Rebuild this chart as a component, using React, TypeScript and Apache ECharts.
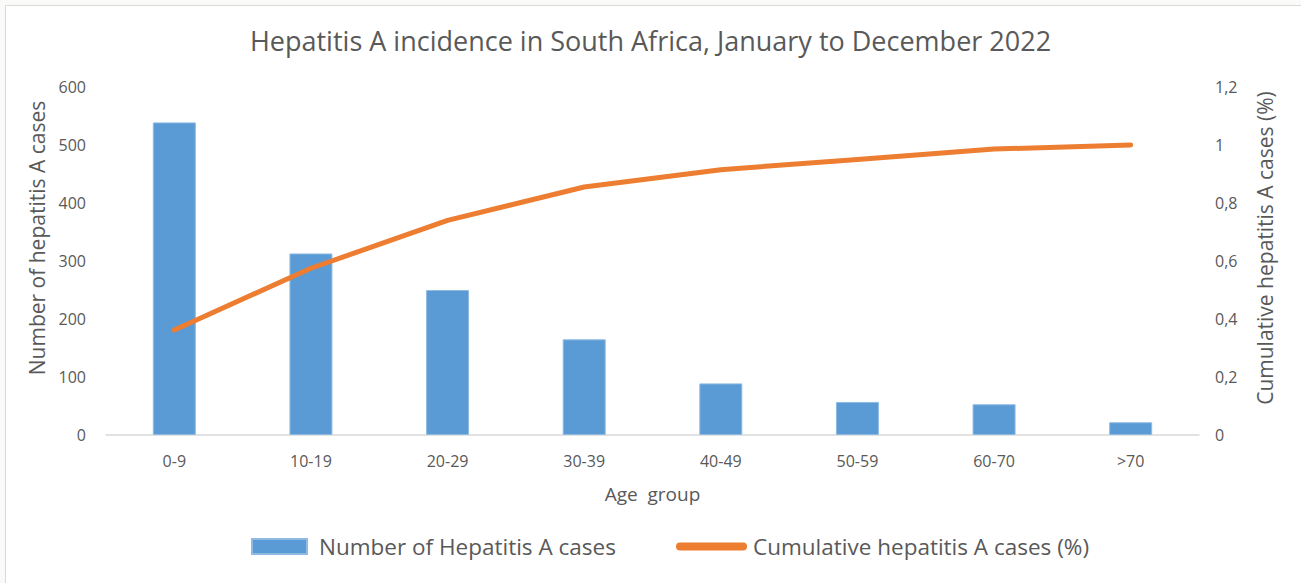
import React, { useEffect, useRef } from "react";
import * as echarts from "echarts";

// Age groups on the category axis
const ageGroups = ["0-9", "10-19", "20-29", "30-39", "40-49", "50-59", "60-70", ">70"];
// Hepatitis A cases per age group
const caseCounts = [539, 313, 250, 165, 89, 57, 53, 22];
// Cumulative share of cases (fraction, shown with comma decimals)
const cumulativeShare = [0.362, 0.575, 0.74, 0.855, 0.915, 0.95, 0.986, 1.0];

const TITLE = "Hepatitis A incidence in South Africa, January to December 2022";
const BAR_NAME = "Number of Hepatitis A cases";
const LINE_NAME = "Cumulative hepatitis A cases (%)";

const FONT = "'Open Sans', 'Noto Sans', sans-serif";
const TEXT = "#595959";
const BLUE = "#5B9BD5";
const ORANGE = "#ED7D31";

const commaDecimal = (v: number) => String(Math.round(v * 10) / 10).replace(".", ",");

export default function App() {
  const ref = useRef<HTMLDivElement>(null);

  useEffect(() => {
    if (!ref.current) return;
    const chart = echarts.init(ref.current, null, { renderer: "svg" });
    chart.setOption({
      animation: false,
      backgroundColor: "#fafbf8",
      graphic: [
        {
          type: "rect",
          shape: { x: 5.5, y: 5.5, width: 1320, height: 620 },
          style: { fill: "#ffffff", stroke: "#d9d9d9", lineWidth: 1 },
          z: -10,
        },
      ],
      title: {
        text: TITLE,
        left: "center",
        top: 22,
        textStyle: { fontFamily: FONT, fontSize: 27, fontWeight: "normal", color: TEXT },
      },
      legend: [
        {
          data: [{ name: BAR_NAME, icon: "rect" }],
          left: 246,
          top: 530,
          itemWidth: 55,
          itemHeight: 15,
          textStyle: {
            fontFamily: FONT,
            fontSize: 22.5,
            color: TEXT,
            padding: [0, 0, 0, 7],
          },
        },
        {
          data: [
            {
              name: LINE_NAME,
              icon: "path://M4,0 H67 A4,4 0 0 1 67,8 H4 A4,4 0 0 1 4,0 Z",
            },
          ],
          left: 671,
          top: 530,
          itemWidth: 71,
          itemHeight: 8,
          textStyle: { fontFamily: FONT, fontSize: 22.5, color: TEXT, padding: [0, 0, 0, 1] },
        },
      ],
      grid: { left: 106, right: 102, top: 87, bottom: 148 },
      xAxis: {
        type: "category",
        data: ageGroups,
        name: "Age  group",
        nameLocation: "middle",
        nameGap: 49,
        nameTextStyle: { fontFamily: FONT, fontSize: 19, color: TEXT },
        axisLine: { lineStyle: { color: "#d9d9d9", width: 1.5 } },
        axisTick: { show: false },
        axisLabel: { margin: 18, fontFamily: FONT, fontSize: 16, color: TEXT },
      },
      yAxis: [
        {
          type: "value",
          min: 0,
          max: 600,
          interval: 100,
          name: "Number of hepatitis A cases",
          nameLocation: "middle",
          nameGap: 56,
          nameTextStyle: {
            fontFamily: FONT,
            fontSize: 21,
            color: TEXT,
            padding: [0, 0, 0, 46],
          },
          splitLine: { show: false },
          axisLine: { show: false },
          axisTick: { show: false },
          axisLabel: { margin: 20, fontFamily: FONT, fontSize: 16, color: TEXT },
        },
        {
          type: "value",
          min: 0,
          max: 1.2,
          interval: 0.2,
          name: LINE_NAME,
          nameLocation: "middle",
          nameGap: 55,
          nameRotate: 90,
          nameTextStyle: {
            fontFamily: FONT,
            fontSize: 21,
            color: TEXT,
            padding: [0, 0, 0, 26],
          },
          splitLine: { show: false },
          axisLine: { show: false },
          axisTick: { show: false },
          axisLabel: {
            margin: 16,
            fontFamily: FONT,
            fontSize: 16,
            color: TEXT,
            formatter: commaDecimal,
          },
        },
      ],
      series: [
        {
          name: BAR_NAME,
          type: "bar",
          data: caseCounts,
          barWidth: 43,
          itemStyle: { color: BLUE, borderColor: "#8fbbe3", borderWidth: 1 },
        },
        {
          name: LINE_NAME,
          type: "line",
          yAxisIndex: 1,
          data: cumulativeShare,
          showSymbol: false,
          symbol: "none",
          lineStyle: { color: ORANGE, width: 5, cap: "round", join: "round" },
          itemStyle: { color: ORANGE },
        },
      ],
    });
    return () => chart.dispose();
  }, []);

  return (
    <div
      ref={ref}
      style={{ position: "fixed", left: 0, top: 0, width: 1301, height: 583 }}
    />
  );
}
